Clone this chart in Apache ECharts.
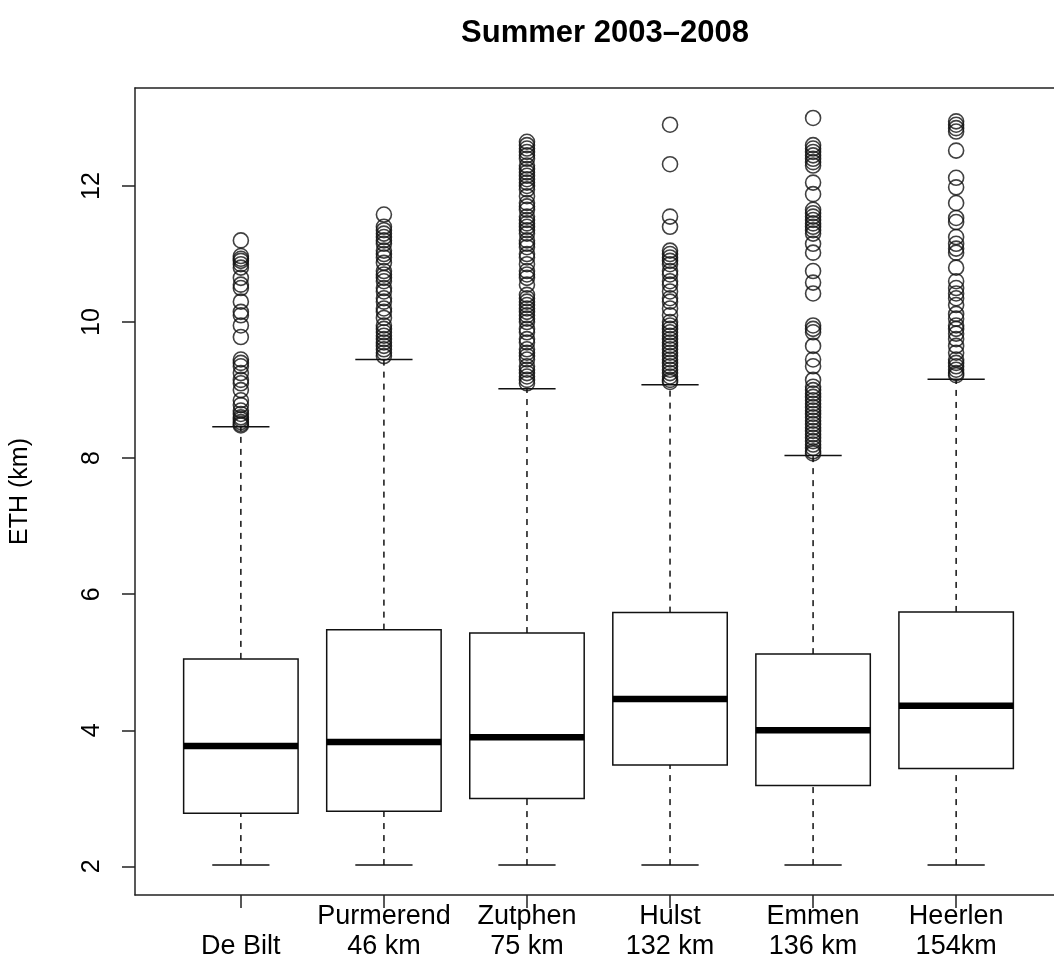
<!DOCTYPE html>
<html>
<head>
<meta charset="utf-8">
<title>Summer 2003–2008</title>
<script src="https://cdn.jsdelivr.net/npm/echarts@6/dist/echarts.min.js"></script>
<style>
  html, body { margin: 0; padding: 0; background: #fff; }
  #chart { width: 1054px; height: 955px; }
</style>
</head>
<body>
<div id="chart"></div>
<script>
// Station labels (first line empty for the reference station)
const categories = ['\nDe Bilt', 'Purmerend\n46 km', 'Zutphen\n75 km', 'Hulst\n132 km', 'Emmen\n136 km', 'Heerlen\n154km'];

// Box statistics of ETH (km) per station
const whiskerLow  = [2.02, 2.02, 2.02, 2.02, 2.02, 2.02];
const lowerQuart  = [2.78, 2.81, 3.00, 3.49, 3.19, 3.44];
const medians     = [3.77, 3.83, 3.90, 4.46, 4.00, 4.36];
const upperQuart  = [5.05, 5.48, 5.43, 5.73, 5.12, 5.74];
const whiskerHigh = [8.46, 9.45, 9.02, 9.08, 8.04, 9.16];

// Outliers above the upper whisker
const outDeBilt = [11.2, 10.97, 10.93, 10.9, 10.85, 10.8, 10.65, 10.55, 10.5, 10.3, 10.15, 10.1, 9.95, 9.78,
  9.45, 9.4, 9.35, 9.25, 9.15, 9.1, 9.0, 8.85, 8.78, 8.7, 8.65, 8.6, 8.57, 8.53, 8.5, 8.48];
const outPurmerend = [11.58, 11.4, 11.35, 11.3, 11.25, 11.2, 11.15, 11.05, 11.0, 10.95, 10.87, 10.75, 10.7, 10.65,
  10.6, 10.5, 10.45, 10.35, 10.3, 10.2, 10.15, 10.06, 9.95, 9.9, 9.85, 9.8, 9.75, 9.7, 9.65, 9.6, 9.55, 9.5];
const outZutphen = [12.65, 12.6, 12.55, 12.5, 12.45, 12.4, 12.3, 12.25, 12.2, 12.15, 12.1, 12.05, 12.0, 11.95,
  11.85, 11.75, 11.7, 11.65, 11.55, 11.5, 11.45, 11.4, 11.35, 11.3, 11.2, 11.15, 11.1, 11.0, 10.95, 10.85,
  10.75, 10.7, 10.65, 10.55, 10.4, 10.35, 10.3, 10.25, 10.2, 10.15, 10.1, 10.05, 10.0, 9.9, 9.85, 9.75,
  9.7, 9.6, 9.55, 9.5, 9.45, 9.35, 9.3, 9.25, 9.2, 9.15, 9.1];
const outHulst = [12.9, 12.32, 11.55, 11.4, 11.05, 11.0, 10.95, 10.9, 10.85, 10.75, 10.7, 10.6, 10.55, 10.45,
  10.35, 10.3, 10.2, 10.1, 10.0, 9.95, 9.9, 9.85, 9.8, 9.75, 9.7, 9.65, 9.6, 9.55, 9.5, 9.45, 9.4, 9.35,
  9.3, 9.25, 9.2, 9.15, 9.12];
const outEmmen = [13.0, 12.6, 12.55, 12.5, 12.45, 12.4, 12.35, 12.3, 12.05, 11.88, 11.65, 11.6, 11.55, 11.5,
  11.45, 11.4, 11.35, 11.3, 11.15, 11.02, 10.75, 10.58, 10.42, 9.95, 9.9, 9.85, 9.65, 9.45, 9.35, 9.15,
  9.05, 9.0, 8.95, 8.9, 8.85, 8.8, 8.75, 8.7, 8.65, 8.6, 8.55, 8.5, 8.45, 8.4, 8.35, 8.3, 8.25, 8.2,
  8.15, 8.1, 8.07];
const outHeerlen = [12.95, 12.9, 12.85, 12.8, 12.52, 12.12, 11.98, 11.75, 11.53, 11.47, 11.25, 11.15, 11.08,
  11.02, 10.8, 10.6, 10.5, 10.42, 10.35, 10.25, 10.12, 10.05, 9.95, 9.9, 9.83, 9.75, 9.65, 9.55, 9.45,
  9.4, 9.35, 9.3, 9.25, 9.22];

const yTicks = [2, 4, 6, 8, 10, 12];
const xTicks = [1, 2, 3, 4, 5, 6];

const outliers = [outDeBilt, outPurmerend, outZutphen, outHulst, outEmmen, outHeerlen];

const boxData = categories.map((c, i) => [i + 1, whiskerLow[i], lowerQuart[i], medians[i], upperQuart[i], whiskerHigh[i]]);
const outlierData = [];
outliers.forEach((arr, i) => arr.forEach(v => outlierData.push([i + 1, v])));

const ink = '#111';
const frame = { color: '#222', width: 1.5 };
const font = 'Liberation Sans, Arial, Helvetica, sans-serif';

function renderBox(params, api) {
  const x = api.value(0);
  const pLow = api.coord([x, api.value(1)]);
  const pQ1 = api.coord([x, api.value(2)]);
  const pMed = api.coord([x, api.value(3)]);
  const pQ3 = api.coord([x, api.value(4)]);
  const pHigh = api.coord([x, api.value(5)]);
  const boxW = api.size([0.8, 0])[0];
  const capW = api.size([0.4, 0])[0];
  const cx = pMed[0];
  const dash = { stroke: ink, lineWidth: 1.5, lineDash: [6, 6] };
  const solid = { stroke: ink, lineWidth: 1.5 };
  return {
    type: 'group',
    children: [
      { type: 'line', shape: { x1: cx, y1: pLow[1], x2: cx, y2: pQ1[1] }, style: dash },
      { type: 'line', shape: { x1: cx, y1: pQ3[1], x2: cx, y2: pHigh[1] }, style: dash },
      { type: 'line', shape: { x1: cx - capW / 2, y1: pLow[1], x2: cx + capW / 2, y2: pLow[1] }, style: solid },
      { type: 'line', shape: { x1: cx - capW / 2, y1: pHigh[1], x2: cx + capW / 2, y2: pHigh[1] }, style: solid },
      { type: 'rect', shape: { x: cx - boxW / 2, y: pQ3[1], width: boxW, height: pQ1[1] - pQ3[1] },
        style: { fill: '#fff', stroke: ink, lineWidth: 1.5 } },
      { type: 'line', shape: { x1: cx - boxW / 2, y1: pMed[1], x2: cx + boxW / 2, y2: pMed[1] },
        style: { stroke: '#000', lineWidth: 6.5 } }
    ]
  };
}

const chart = echarts.init(document.getElementById('chart'), null, { renderer: 'canvas' });
chart.setOption({
  animation: false,
  backgroundColor: '#fff',
  title: {
    text: 'Summer 2003–2008',
    left: 600,
    top: 13,
    textAlign: 'center',
    textStyle: { fontFamily: font, fontSize: 31, fontWeight: 'bold', color: '#000' }
  },
  grid: {
    left: 135, top: 88, width: 927, height: 807,
    outerBoundsMode: 'none',
    containLabel: false,
    show: false
  },
  xAxis: [
    {
      type: 'value',
      position: 'bottom',
      min: 0.26, max: 6.74,
      splitLine: { show: false },
      axisLine: { show: true, lineStyle: frame },
      axisTick: { show: true, length: 13, customValues: xTicks, lineStyle: frame },
      axisLabel: {
        customValues: xTicks,
        margin: 7,
        fontFamily: font, fontSize: 27, color: '#000', lineHeight: 30,
        formatter: v => categories[Math.round(v) - 1] || ''
      }
    },
    {
      // top edge of the plot frame
      type: 'value',
      position: 'top',
      min: 0.26, max: 6.74,
      splitLine: { show: false },
      axisLine: { show: true, lineStyle: frame },
      axisTick: { show: false },
      axisLabel: { show: false }
    }
  ],
  yAxis: {
    type: 'value',
    min: 1.58, max: 13.44,
    name: 'ETH (km)',
    nameLocation: 'middle',
    nameRotate: 90,
    nameGap: 102,
    nameTextStyle: { fontFamily: font, fontSize: 25, color: '#000' },
    splitLine: { show: false },
    axisLine: { show: true, lineStyle: frame },
    axisTick: { show: true, length: 13, customValues: yTicks, lineStyle: frame },
    axisLabel: {
      customValues: yTicks,
      rotate: 90,
      margin: 30,
      fontFamily: font, fontSize: 25, color: '#000'
    }
  },
  series: [
    {
      type: 'custom',
      renderItem: renderBox,
      data: boxData,
      encode: { x: 0, y: [1, 2, 3, 4, 5] },
      z: 2
    },
    {
      type: 'scatter',
      data: outlierData,
      symbol: 'circle',
      symbolSize: 15,
      itemStyle: { color: 'rgba(0,0,0,0)', borderColor: '#111', borderWidth: 1.6 },
      z: 3
    }
  ]
});
</script>
</body>
</html>
